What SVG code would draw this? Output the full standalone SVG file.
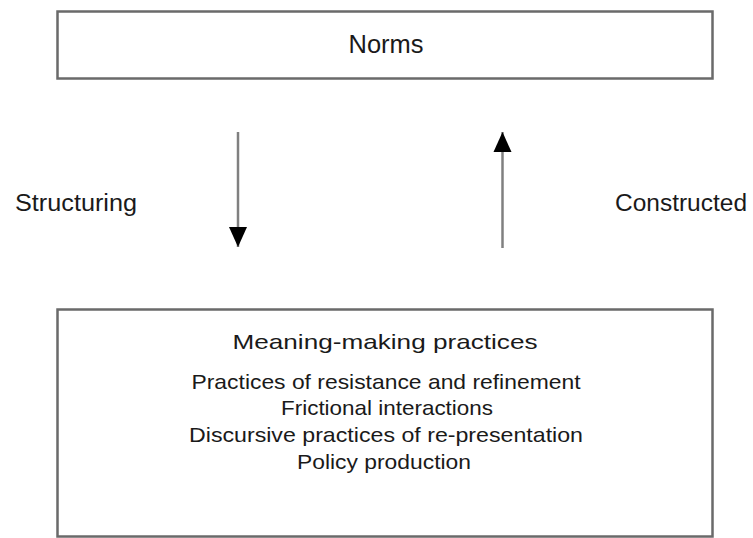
<svg xmlns="http://www.w3.org/2000/svg" width="753" height="538" viewBox="0 0 753 538">
  <defs>
    <style>
      .box { fill: #ffffff; stroke: #6a6a6a; stroke-width: 2.5; }
      .lbl { font-family: "Liberation Sans", Arial, sans-serif; fill: #1a1a1a; }
      .conn { stroke: #808080; stroke-width: 2.5; fill: none; }
      .head { fill: #000000; }
    </style>
    <marker id="arrowhead" viewBox="0 0 20 20" refX="20" refY="10" markerWidth="20" markerHeight="20" markerUnits="userSpaceOnUse" orient="auto">
      <path class="head" d="M0,1 L20,10 L0,19 Z"/>
    </marker>
  </defs>
  <rect width="753" height="538" fill="#ffffff"/>

  <g id="norms">
    <rect class="box" x="57.5" y="11.5" width="655" height="67"/>
    <text class="lbl" x="386" y="53" font-size="25" text-anchor="middle" textLength="75" lengthAdjust="spacingAndGlyphs">Norms</text>
  </g>

  <g id="practices">
    <rect class="box" x="57.5" y="309.5" width="655" height="227"/>
    <text class="lbl" x="385" y="349" font-size="21" text-anchor="middle" textLength="305" lengthAdjust="spacingAndGlyphs">Meaning-making practices</text>
    <text class="lbl" x="386" y="389" font-size="21" text-anchor="middle" textLength="389" lengthAdjust="spacingAndGlyphs">Practices of resistance and refinement</text>
    <text class="lbl" x="387" y="415" font-size="21" text-anchor="middle" textLength="212" lengthAdjust="spacingAndGlyphs">Frictional interactions</text>
    <text class="lbl" x="386" y="442" font-size="21" text-anchor="middle" textLength="394" lengthAdjust="spacingAndGlyphs">Discursive practices of re-presentation</text>
    <text class="lbl" x="384" y="469" font-size="21" text-anchor="middle" textLength="174" lengthAdjust="spacingAndGlyphs">Policy production</text>
  </g>

  <g id="labels">
    <text class="lbl" x="15" y="211" font-size="23" textLength="122" lengthAdjust="spacingAndGlyphs">Structuring</text>
    <text class="lbl" x="615" y="211" font-size="23" textLength="132" lengthAdjust="spacingAndGlyphs">Constructed</text>
  </g>

  <g id="connectors">
    <line class="conn" x1="238" y1="132" x2="238" y2="247" marker-end="url(#arrowhead)"/>
    <line class="conn" x1="502.5" y1="248" x2="502.5" y2="132" marker-end="url(#arrowhead)"/>
  </g>
</svg>
